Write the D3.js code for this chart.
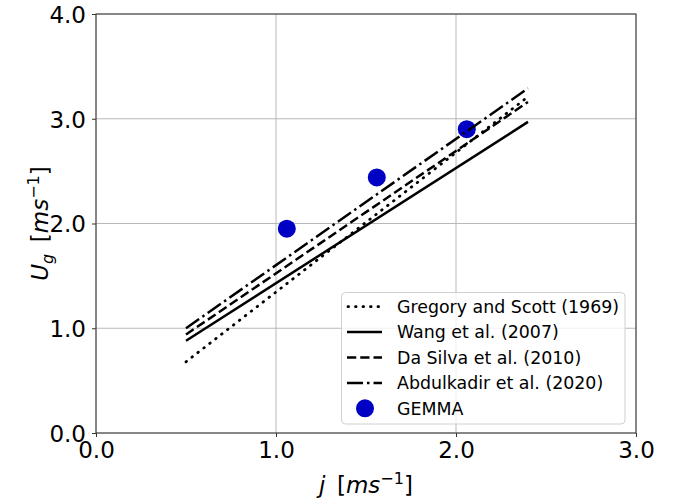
<!DOCTYPE html>
<html><head><meta charset="utf-8">
<script src="https://cdn.jsdelivr.net/npm/d3@7"></script>
<style>html,body{margin:0;padding:0;background:#fff;}svg{display:block;}</style>
</head><body>
<svg id="c" width="678" height="502"></svg>
<script>
const jRange = [0.5, 2.4];
const gregory = [0.68, 3.21];
const wang = [0.88, 2.97];
const daSilva = [0.94, 3.16];
const abdulkadir = [1.0, 3.29];
const gemmaJ = [1.06, 1.56, 2.06];
const gemmaU = [1.95, 2.44, 2.90];
const xTicks = [0, 1, 2, 3];
const yTicks = [0, 1, 2, 3, 4];
const seriesNames = ["Gregory and Scott (1969)", "Wang et al. (2007)", "Da Silva et al. (2010)", "Abdulkadir et al. (2020)"];

const lw = 2.5;
const dashes = ["0.6 6.9", null, `${3.7*lw} ${1.6*lw}`, `${6.4*lw} ${1.6*lw} ${1*lw} ${1.6*lw}`];
const series = [gregory, wang, daSilva, abdulkadir];

const svg = d3.select("#c");
const L = 96, R = 636, T = 14, B = 433;
const x = d3.scaleLinear().domain([0, 3]).range([L, R]);
const y = d3.scaleLinear().domain([0, 4]).range([B, T]);
const font = "DejaVu Sans";

// grid
svg.append("g").selectAll("line").data(xTicks).join("line")
  .attr("x1", d => x(d)).attr("x2", d => x(d)).attr("y1", T).attr("y2", B)
  .attr("stroke", "#b0b0b0").attr("stroke-width", 0.9);
svg.append("g").selectAll("line").data(yTicks).join("line")
  .attr("y1", d => y(d)).attr("y2", d => y(d)).attr("x1", L).attr("x2", R)
  .attr("stroke", "#b0b0b0").attr("stroke-width", 0.9);

// points (under lines)
svg.append("g").selectAll("circle").data(gemmaJ).join("circle")
  .attr("cx", d => x(d)).attr("cy", (d, i) => y(gemmaU[i])).attr("r", 9)
  .attr("fill", "#0000c4");

// lines
const line = d3.line().x(d => x(d[0])).y(d => y(d[1]));
series.forEach((s, i) => {
  svg.append("path").datum(jRange.map((j, k) => [j, s[k]]))
    .attr("d", line).attr("fill", "none").attr("stroke", "#000")
    .attr("stroke-width", i === 0 ? 2.8 : lw)
    .attr("stroke-dasharray", dashes[i])
    .attr("stroke-linecap", i === 0 ? "round" : "butt");
});

// axes
const xAxis = d3.axisBottom(x).tickValues(xTicks).tickFormat(d3.format(".1f")).tickSize(4).tickPadding(5);
const yAxis = d3.axisLeft(y).tickValues(yTicks).tickFormat(d3.format(".1f")).tickSize(4).tickPadding(6);
const gx = svg.append("g").attr("transform", `translate(0,${B})`).call(xAxis);
const gy = svg.append("g").attr("transform", `translate(${L},0)`).call(yAxis);
[gx, gy].forEach(g => {
  g.select(".domain").remove();
  g.selectAll("line").attr("stroke", "#333").attr("stroke-width", 1);
  g.selectAll("text").attr("font-family", font).attr("font-size", 23).attr("fill", "#000");
});
gy.selectAll("text").attr("dy", "0.36em");

// frame
svg.append("rect").attr("x", L).attr("y", T).attr("width", R - L).attr("height", B - T)
  .attr("fill", "none").attr("stroke", "#333").attr("stroke-width", 1);

// axis labels
const xl = svg.append("text").attr("x", (L + R) / 2).attr("y", 493).attr("text-anchor", "middle")
  .attr("font-family", font).attr("font-size", 23);
xl.append("tspan").attr("font-style", "italic").text("j");
xl.append("tspan").text("\u2002[");
xl.append("tspan").attr("font-style", "italic").text("ms");
xl.append("tspan").attr("font-size", 16).attr("dy", -9).text("\u22121");
xl.append("tspan").attr("dy", 9).text("]");

const yl = svg.append("text").attr("transform", `translate(48,${(T + B) / 2}) rotate(-90)`)
  .attr("text-anchor", "middle").attr("font-family", font).attr("font-size", 23);
yl.append("tspan").attr("font-style", "italic").text("U");
yl.append("tspan").attr("font-style", "italic").attr("font-size", 16).attr("dy", 5).text("g");
yl.append("tspan").attr("dy", -5).text("\u2002[");
yl.append("tspan").attr("font-style", "italic").text("ms");
yl.append("tspan").attr("font-size", 16).attr("dy", -9).text("\u22121");
yl.append("tspan").attr("dy", 9).text("]");

// legend
const lg = svg.append("g");
lg.append("rect").attr("x", 341.5).attr("y", 292.5).attr("width", 283.5).attr("height", 131.5)
  .attr("rx", 4).attr("fill", "rgba(255,255,255,0.8)").attr("stroke", "#d0d0d0").attr("stroke-width", 1);
const rowY = i => 306.7 + i * 25.4;
series.forEach((s, i) => {
  lg.append("line").attr("x1", i === 0 ? 348 : 347).attr("x2", 382).attr("y1", rowY(i)).attr("y2", rowY(i))
    .attr("stroke", "#000").attr("stroke-width", i === 0 ? 2.8 : lw).attr("stroke-dasharray", dashes[i])
    .attr("stroke-linecap", i === 0 ? "round" : "butt");
  lg.append("text").attr("x", 397).attr("y", rowY(i)).attr("dy", "0.36em")
    .attr("font-family", font).attr("font-size", 17.4).text(seriesNames[i]);
});
lg.append("circle").attr("cx", 365).attr("cy", rowY(4)).attr("r", 9).attr("fill", "#0000c4");
lg.append("text").attr("x", 397).attr("y", rowY(4)).attr("dy", "0.36em")
  .attr("font-family", font).attr("font-size", 17.4).text("GEMMA");
</script>
</body></html>
